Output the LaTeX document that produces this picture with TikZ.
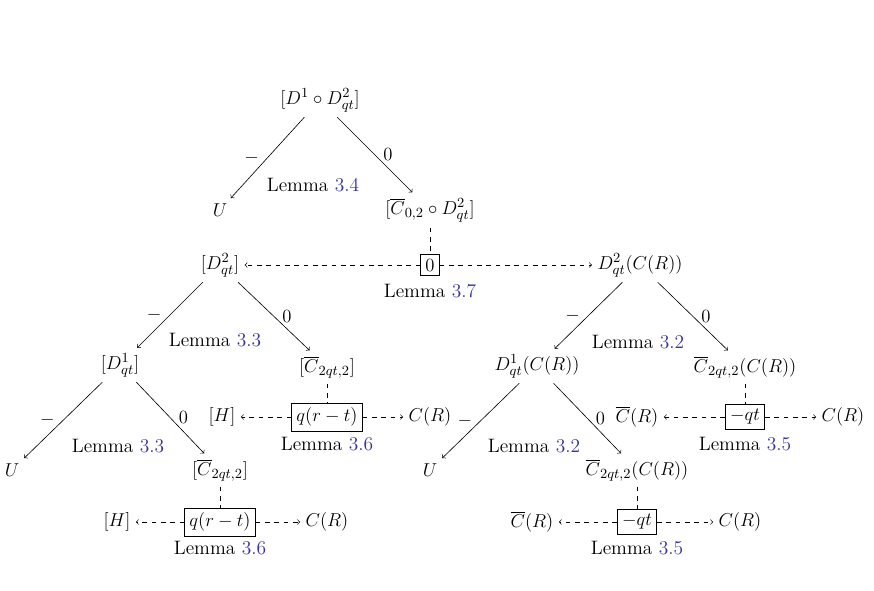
\documentclass[tikz,border=0pt]{standalone}
\usepackage{amsmath,amssymb}
\usepackage{tikz}
\usetikzlibrary{arrows,positioning,calc}
\usepackage{xcolor}
\definecolor{refblue}{rgb}{0.2,0.2,0.6}
\newcommand{\lem}[1]{Lemma \textcolor{refblue}{#1}}
\newcommand{\Cb}{\overline{C}}

\begin{document}
\begin{tikzpicture}[x=0.0226cm,y=-0.0226cm,
    every node/.style={font=\fontsize{12.5}{15}\selectfont},
    arrow/.style={->},
    dline/.style={dashed},
    darrow/.style={->, dashed},
    box/.style={rectangle, draw, inner sep=3pt},
    lemma/.style={inner sep=1pt}
]
    \useasboundingbox (0,0) rectangle (874,590);

    % Racine
    \node (root) at (320,100) {$[D^1 \circ D^2_{qt}]$};
    \node (u0) at (220,210) {$U$};
    \node (c0) at (430,210) {$[\Cb_{0,2} \circ D^2_{qt}]$};
    \draw[arrow] (root) -- node[left=2pt] {$-$} (u0);
    \draw[arrow] (root) -- node[right=2pt] {$0$} (c0);
    \node[lemma] (l34) at (313,185) {\lem{3.4}};

    % Niveau 2
    \node[box] (z) at (430,265) {$0$};
    \node[lemma] (l37) at (430,291) {\lem{3.7}};
    \node (d2) at (220,265) {$[D^2_{qt}]$};
    \node (d2c) at (640,265) {$D^2_{qt}(C(R))$};
    \draw[dline] (c0) -- (z);
    \draw[darrow] (z) -- (d2);
    \draw[darrow] (z) -- (d2c);

    % Branche gauche
    \node (d1) at (120,365) {$[D^1_{qt}]$};
    \node (c1) at (327,367) {$[\Cb_{2qt,2}]$};
    \draw[arrow] (d2) -- node[left=2pt] {$-$} (d1);
    \draw[arrow] (d2) -- node[right=2pt] {$0$} (c1);
    \node[lemma] (l33a) at (215,340) {\lem{3.3}};
    \node[box] (q1) at (327,417) {$q(r-t)$};
    \node (h1) at (222,417) {$[H]$};
    \node (r1) at (430,417) {$C(R)$};
    \node[lemma] (l36a) at (327,444) {\lem{3.6}};
    \draw[dline] (c1) -- (q1);
    \draw[darrow] (q1) -- (h1);
    \draw[darrow] (q1) -- (r1);

    \node (u1) at (12,470) {$U$};
    \node (c2) at (220,470) {$[\Cb_{2qt,2}]$};
    \draw[arrow] (d1) -- node[left=2pt] {$-$} (u1);
    \draw[arrow] (d1) -- node[right=2pt] {$0$} (c2);
    \node[lemma] (l33b) at (118,446) {\lem{3.3}};
    \node[box] (q2) at (220,522) {$q(r-t)$};
    \node (h2) at (117,522) {$[H]$};
    \node (r2) at (327,522) {$C(R)$};
    \node[lemma] (l36b) at (220,548) {\lem{3.6}};
    \draw[dline] (c2) -- (q2);
    \draw[darrow] (q2) -- (h2);
    \draw[darrow] (q2) -- (r2);

    % Branche droite
    \node (d1c) at (537,366) {$D^1_{qt}(C(R))$};
    \node (c3) at (745,367) {$\Cb_{2qt,2}(C(R))$};
    \draw[arrow] (d2c) -- node[left=2pt] {$-$} (d1c);
    \draw[arrow] (d2c) -- node[right=2pt] {$0$} (c3);
    \node[lemma] (l32a) at (638,342) {\lem{3.2}};
    \node[box] (m1) at (745,417) {$-qt$};
    \node (cb1) at (637,417) {$\Cb(R)$};
    \node (r3) at (843,417) {$C(R)$};
    \node[lemma] (l35a) at (745,444) {\lem{3.5}};
    \draw[dline] (c3) -- (m1);
    \draw[darrow] (m1) -- (cb1);
    \draw[darrow] (m1) -- (r3);

    \node (u2) at (430,470) {$U$};
    \node (c4) at (637,470) {$\Cb_{2qt,2}(C(R))$};
    \draw[arrow] (d1c) -- node[left=2pt] {$-$} (u2);
    \draw[arrow] (d1c) -- node[right=2pt] {$0$} (c4);
    \node[lemma] (l32b) at (534,446) {\lem{3.2}};
    \node[box] (m2) at (637,522) {$-qt$};
    \node (cb2) at (532,522) {$\Cb(R)$};
    \node (r4) at (740,522) {$C(R)$};
    \node[lemma] (l35b) at (637,548) {\lem{3.5}};
    \draw[dline] (c4) -- (m2);
    \draw[darrow] (m2) -- (cb2);
    \draw[darrow] (m2) -- (r4);
\end{tikzpicture}
\end{document}
